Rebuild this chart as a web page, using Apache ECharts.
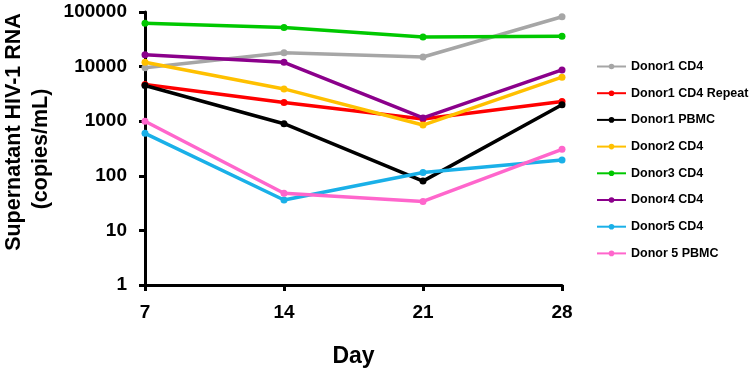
<!DOCTYPE html>
<html>
<head>
<meta charset="utf-8">
<script src="https://cdn.jsdelivr.net/npm/echarts@6/dist/echarts.min.js"></script>
<style>
html, body { margin: 0; padding: 0; background: #fff; }
#chart { width: 750px; height: 373px; }
</style>
</head>
<body>
<div id="chart"></div>
<script>
// days on x axis
var days = [7, 14, 21, 28]
var seriesNames = ['Donor1 CD4', 'Donor1 CD4 Repeat', 'Donor1 PBMC', 'Donor2 CD4',
    'Donor3 CD4', 'Donor4 CD4', 'Donor5 CD4', 'Donor 5 PBMC']
var seriesColors = ['#A6A6A6', '#FF0000', '#000000', '#FFC000',
    '#00C800', '#8B008B', '#1AB0E8', '#FF66CC']

// copies/mL
var donor1CD4 = [9500, 18000, 15000, 82000]
var donor1CD4Repeat = [4700, 2200, 1100, 2300]
var donor1PBMC = [4500, 900, 80, 2000]
var donor2CD4 = [12000, 3900, 850, 6400]
var donor3CD4 = [62000, 52000, 35000, 36000]
var donor4CD4 = [16500, 12000, 1150, 8700]
var donor5CD4 = [600, 36, 115, 195]
var donor5PBMC = [1000, 48, 34, 305]

var allData = [donor1CD4, donor1CD4Repeat, donor1PBMC, donor2CD4,
    donor3CD4, donor4CD4, donor5CD4, donor5PBMC]

var chart = echarts.init(document.getElementById('chart'))
var fontFam = '"Liberation Sans", Arial, sans-serif'

var series = seriesNames.map(function(name, i){
    return {
        name: name,
        type: 'line',
        data: allData[i].map(function(v, j){ return [days[j], v] }),
        symbol: 'circle',
        symbolSize: 7,
        lineStyle: { width: 3.5, color: seriesColors[i] },
        itemStyle: { color: seriesColors[i] }
    }
})

var option = {
    animation: false,
    grid: { left: 145, right: 188, top: 12, bottom: 83 },
    legend: {
        orient: 'vertical',
        left: 591,
        top: 55,
        itemGap: 13.7,
        itemWidth: 29,
        itemHeight: 7,
        textStyle: { fontFamily: fontFam, fontWeight: 'bold', fontSize: 12.5, color: '#000' },
        data: seriesNames
    },
    // y axis title, two lines placed separately like the original
    graphic: [
        {
            type: 'text', x: 14, y: 132, rotation: Math.PI / 2,
            style: { text: 'Supernatant HIV-1 RNA', fontFamily: fontFam, fontWeight: 'bold',
                fontSize: 21.5, fill: '#000', align: 'center', verticalAlign: 'middle' }
        },
        {
            type: 'text', x: 41, y: 149, rotation: Math.PI / 2,
            style: { text: '(copies/mL)', fontFamily: fontFam, fontWeight: 'bold',
                fontSize: 21.5, fill: '#000', align: 'center', verticalAlign: 'middle' }
        }
    ],
    xAxis: {
        type: 'value',
        min: 7,
        max: 28,
        interval: 7,
        name: 'Day',
        nameLocation: 'middle',
        nameGap: 60,
        nameTextStyle: { fontFamily: fontFam, fontWeight: 'bold', fontSize: 23, color: '#000' },
        axisLine: { lineStyle: { color: '#000', width: 3 } },
        axisTick: { show: true, length: 6, lineStyle: { width: 3, color: '#000' } },
        axisLabel: { fontFamily: fontFam, fontWeight: 'bold', fontSize: 19, color: '#000', margin: 18 },
        splitLine: { show: false }
    },
    yAxis: {
        type: 'log',
        logBase: 10,
        min: 1,
        max: 100000,
        axisLine: { show: true, lineStyle: { color: '#000', width: 3 } },
        axisTick: { show: true, length: 6, lineStyle: { width: 3, color: '#000' } },
        axisLabel: {
            fontFamily: fontFam, fontWeight: 'bold', fontSize: 19, color: '#000', margin: 18,
            formatter: function(v){ return String(Math.round(v)) }
        },
        splitLine: { show: false }
    },
    series: series
}

chart.setOption(option)
</script>
</body>
</html>
